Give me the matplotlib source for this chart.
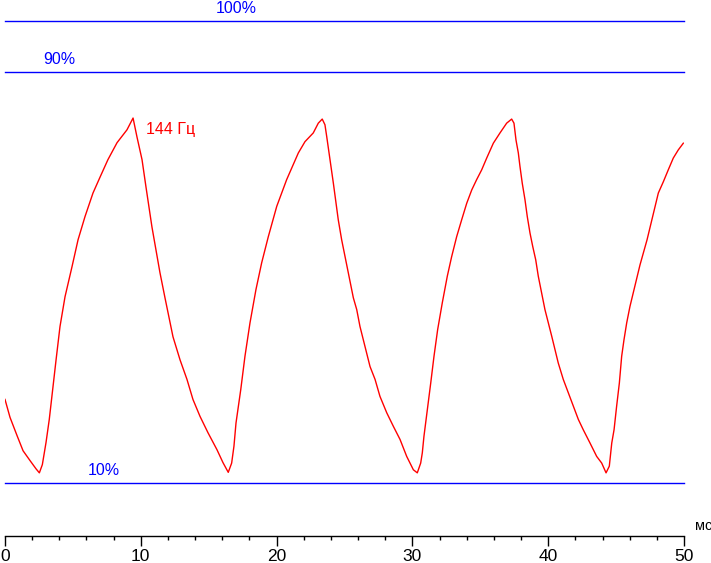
import matplotlib
matplotlib.use("Agg")
import matplotlib.pyplot as plt
from matplotlib.ticker import MultipleLocator

# время, мс / яркость, %
t = [0.0, 0.37, 0.88, 1.33, 1.84, 2.28, 2.53, 2.75, 3.02, 3.26, 3.51, 3.76,
     4.05, 4.42, 4.93, 5.38, 5.89, 6.48, 7.00, 7.58, 8.25, 8.98, 9.43,
     9.72, 10.09, 10.38, 10.82, 11.41, 11.78, 12.37, 12.89, 13.40, 13.84,
     14.36, 14.95, 15.61, 16.05, 16.44,
     16.69, 16.86, 17.01, 17.36, 17.67, 18.04, 18.48, 18.90, 19.39, 20.01,
     20.74, 21.60, 22.09, 22.70, 23.07, 23.36,
     23.56, 23.69, 23.93, 24.18, 24.54, 24.79, 25.04, 25.28, 25.65, 25.90,
     26.14, 26.51, 26.88, 27.25, 27.61, 28.11, 28.59, 29.09, 29.58, 30.07,
     30.36,
     30.61, 30.73, 30.85, 31.10, 31.35, 31.59, 31.86, 32.20, 32.57, 32.89,
     33.26, 33.63, 34.00, 34.37, 34.73, 35.10, 35.47, 35.96, 36.45, 36.94,
     37.31,
     37.48, 37.63, 37.80, 37.92, 38.09, 38.29, 38.46, 38.66, 38.86, 39.08,
     39.27, 39.59, 39.76, 40.01, 40.26, 40.50, 40.74, 41.11, 41.48, 41.85,
     42.22, 42.58, 43.08, 43.57, 43.94, 44.26,
     44.50, 44.68, 44.85, 45.04, 45.24, 45.41, 45.58, 45.78, 46.02, 46.32,
     46.76, 47.28, 47.81, 48.11, 48.48, 48.84, 49.21, 49.58, 49.95]
v = [26.3, 22.8, 19.3, 16.3, 14.4, 12.8, 12.0, 13.6, 17.9, 22.4, 28.2, 34.0,
     40.5, 46.3, 52.1, 57.4, 61.9, 66.5, 69.6, 73.0, 76.3, 78.8, 81.1,
     77.4, 73.0, 67.7, 59.9, 51.0, 46.1, 38.5, 34.0, 30.2, 26.3,
     23.0, 19.8, 16.5, 14.0, 12.1,
     13.9, 17.2, 21.7, 28.2, 34.7, 41.2, 47.7, 52.9, 58.0, 63.9,
     69.1, 74.3, 76.5, 78.2, 80.1, 80.9,
     79.8, 77.5, 73.0, 68.4, 61.3, 57.4, 54.1, 50.9, 46.1, 43.8,
     40.5, 36.6, 32.7, 30.2, 26.9, 23.7, 21.1, 18.5, 15.2, 12.6,
     12.0,
     13.9, 15.9, 19.1, 24.3, 29.5, 34.7, 39.9, 45.1, 50.3, 54.1,
     58.0, 61.3, 64.5, 67.1, 69.1, 71.0, 73.3, 76.2, 78.2, 80.1,
     80.9,
     80.1, 76.8, 74.3, 71.7, 68.4, 65.2, 61.9, 58.7, 56.1, 53.5,
     50.3, 46.1, 43.8, 41.2, 38.6, 36.0, 33.4, 30.2, 27.6, 25.0,
     22.4, 20.4, 17.8, 15.2, 13.9, 12.0,
     13.3, 17.8, 20.4, 25.0, 29.5, 34.7, 37.9, 41.2, 44.4, 47.7,
     52.5, 57.4, 63.2, 66.5, 68.7, 71.0, 73.3, 74.9, 76.2]

levels = [100, 90, 10]
level_labels = ["100%", "90%", "10%"]
level_label_x = [15.5, 2.85, 6.1]
x_ticks = [0, 10, 20, 30, 40, 50]

font = ["Liberation Sans", "DejaVu Sans"]
narrow = ["Liberation Sans Narrow", "Liberation Sans", "DejaVu Sans"]

W, H = 711, 563
fig = plt.figure(figsize=(W / 100, H / 100), dpi=100)
ax = fig.add_axes([5 / W, (H - 536) / H, 679 / W, (536 - 21) / H])
ax.set_xlim(0, 50)
ax.set_ylim(-0.3, 100)

for lv, lab, lx in zip(levels, level_labels, level_label_x):
    ax.axhline(lv, color="#0000ff", lw=1.0, clip_on=False)
    ax.text(lx, lv + 1.0, lab, color="#0000ff", fontsize=11.5,
            family=font, ha="left", va="bottom")

ax.plot(t, v, color="#ff0000", lw=1.0)
ax.text(10.4, 77.4, "144 Гц", color="#ff0000", fontsize=11.5,
        family=font, ha="left", va="bottom")

for s in ["top", "left", "right"]:
    ax.spines[s].set_visible(False)
ax.spines["bottom"].set_linewidth(1.0)
ax.set_yticks([])
ax.set_xticks(x_ticks)
ax.xaxis.set_minor_locator(MultipleLocator(2))
ax.tick_params(axis="x", which="major", direction="out", length=7.5,
               width=1.0, pad=2, labelsize=12.5)
ax.tick_params(axis="x", which="minor", direction="out", length=3,
               width=1.0)
for lbl in ax.get_xticklabels():
    lbl.set_family(narrow)

fig.text(695 / W, 1 - 526 / H, "мс", fontsize=10.5, family=font,
         ha="left", va="center")

fig.savefig("out.png", dpi=100, facecolor="white")
